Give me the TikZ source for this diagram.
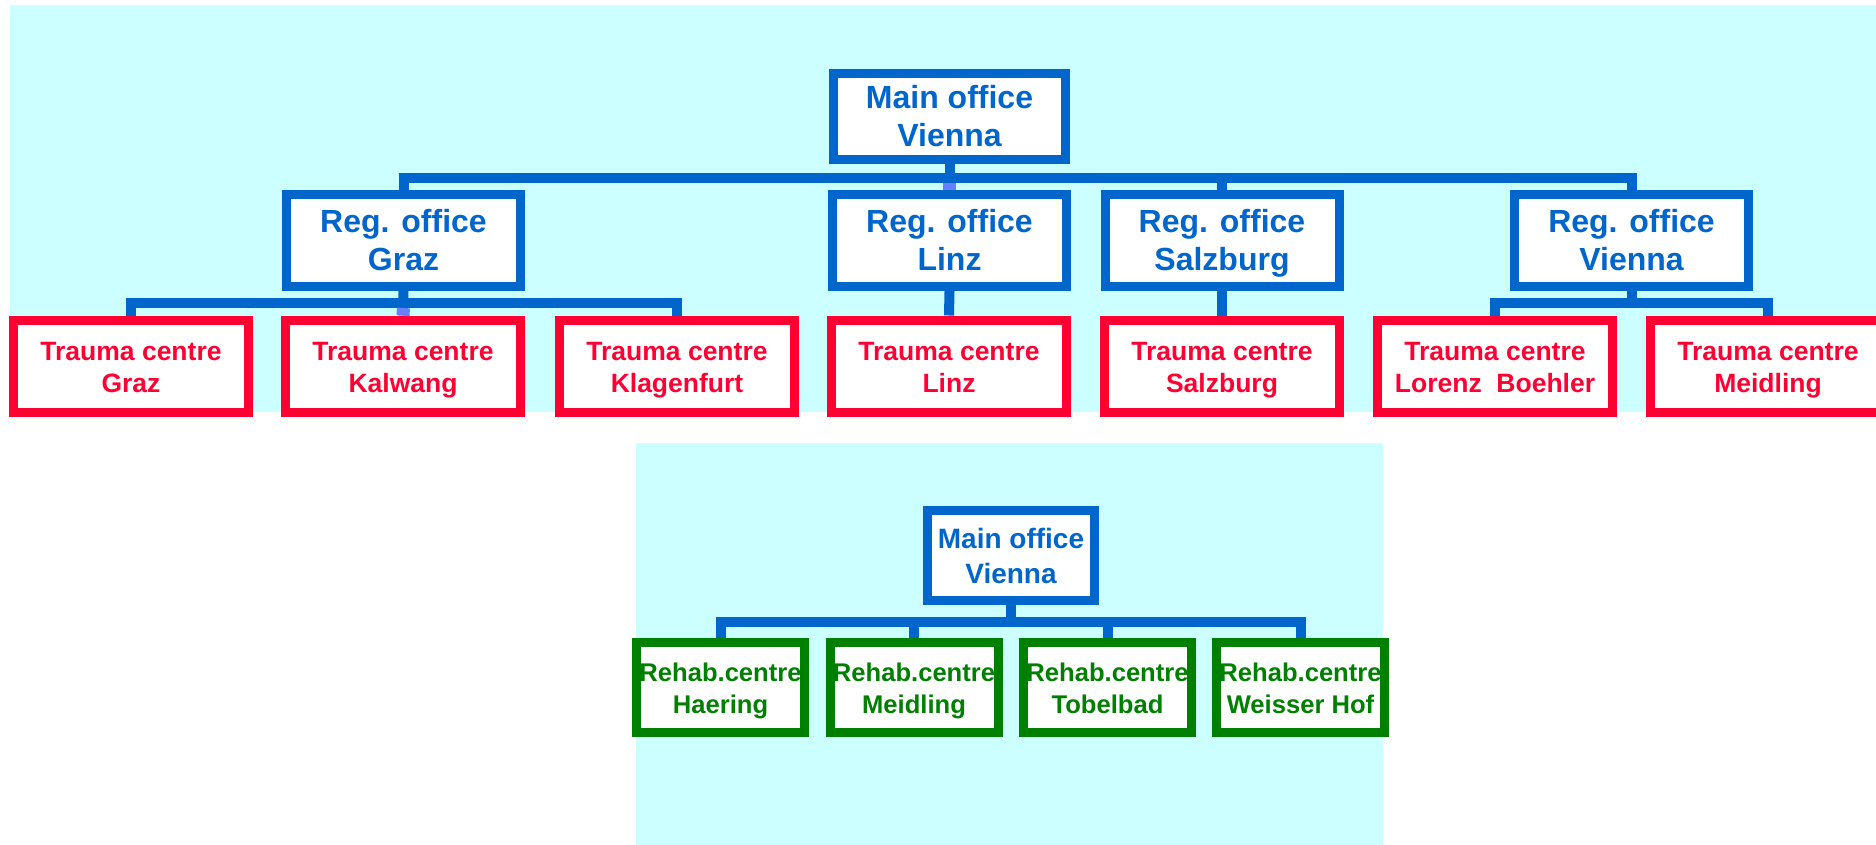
\documentclass[tikz,border=0pt]{standalone}
\usepackage{fontspec}
\setmainfont{Liberation Sans}
\usepackage{tikz}
\usetikzlibrary{positioning,backgrounds}
\usepackage{xcolor}
\definecolor{orgblue}{HTML}{0066CC}
\definecolor{orgpale}{HTML}{6680FF}
\definecolor{traumared}{HTML}{FF0033}
\definecolor{rehabgreen}{HTML}{008000}
\definecolor{panelcyan}{HTML}{CCFFFF}

\begin{document}
\begin{tikzpicture}[x=1pt,y=-1pt,
  box/.style={draw,fill=white,line width=9pt,inner sep=0pt,align=center},
  office/.style={box,draw=orgblue,text=orgblue,minimum width=234pt,minimum height=92pt,
    text height=67pt,text depth=7pt,font=\bfseries\fontsize{32}{38}\selectfont},
  trauma/.style={box,draw=traumared,text=traumared,minimum width=235pt,minimum height=92pt,
    text height=58pt,text depth=6pt,font=\bfseries\fontsize{26.5}{32}\selectfont},
  rehab/.style={box,draw=rehabgreen,text=rehabgreen,minimum width=168pt,minimum height=90pt,
    text height=57pt,text depth=6pt,font=\bfseries\fontsize{25.6}{32}\selectfont},
  link/.style={draw=orgblue,line width=10pt},
  linkpale/.style={draw=orgpale,line width=13pt}]
\useasboundingbox (0,0) rectangle (1876,845);

% trauma centres
\node[office,minimum width=232pt,minimum height=86pt] (main) at (949.5,116.5) {Main office\\Vienna};
\node[office] (rgraz) at (403.5,240.5) {Reg. office\\Graz};
\node[office] (rlinz) at (949.5,240.5) {Reg. office\\Linz};
\node[office] (rsalz) at (1222,240.5) {Reg. office\\Salzburg};
\node[office] (rvienna) at (1631.5,240.5) {Reg. office\\Vienna};
\node[trauma] (tgraz) at (131,366) {Trauma centre\\Graz};
\node[trauma] (tkalwang) at (403,366) {Trauma centre\\Kalwang};
\node[trauma] (tklagenfurt) at (677,366) {Trauma centre\\Klagenfurt};
\node[trauma] (tlinz) at (949,366) {Trauma centre\\Linz};
\node[trauma] (tsalz) at (1222,366) {Trauma centre\\Salzburg};
\node[trauma] (tboehler) at (1495,366) {Trauma centre\\Lorenz~~Boehler};
\node[trauma] (tmeidling) at (1768,366) {Trauma centre\\Meidling};

% rehab centres
\node[office,minimum width=167pt,minimum height=90pt,text height=62pt,text depth=7pt,
  font=\bfseries\fontsize{28}{35}\selectfont] (hq) at (1011,555.5) {Main office\\Vienna};
\node[rehab] (rhaering) at (720.5,687.5) {Rehab.centre\\Haering};
\node[rehab] (rmeidling) at (914,687.5) {Rehab.centre\\Meidling};
\node[rehab] (rtobelbad) at (1107.5,687.5) {Rehab.centre\\Tobelbad};
\node[rehab] (rweisser) at (1300.5,687.5) {Rehab.centre\\Weisser Hof};

\coordinate (topbar) at (949.5,178);
\coordinate (grazbar) at (403.5,303);
\coordinate (viennabar) at (1631.5,303);
\coordinate (rehabbar) at (1011,622);

\begin{scope}[on background layer]
\fill[panelcyan] (10,5) rectangle (1876,412);
\fill[panelcyan] (636,443) rectangle (1383,845);
\draw[link] (rgraz.north) -- (rgraz.north |- topbar) -- (rvienna.north |- topbar) -- (rvienna.north);
\draw[link] (main.south) -- (rlinz.north);
\draw[link] (rsalz.north) -- (rsalz.north |- topbar);
\draw[linkpale] ([yshift=-5pt]topbar) -- (rlinz.north);
\draw[link] (tgraz.north) -- (tgraz.north |- grazbar) -- (tklagenfurt.north |- grazbar) -- (tklagenfurt.north);
\draw[link] (rgraz.south) -- (tkalwang.north);
\draw[linkpale] ([yshift=-5pt]grazbar) -- (tkalwang.north);
\draw[link] (rlinz.south) -- (tlinz.north);
\draw[link] (rsalz.south) -- (tsalz.north);
\draw[link] (tboehler.north) -- (tboehler.north |- viennabar) -- (tmeidling.north |- viennabar) -- (tmeidling.north);
\draw[link] (rvienna.south) -- (viennabar);
\draw[link] (rhaering.north) -- (rhaering.north |- rehabbar) -- (rweisser.north |- rehabbar) -- (rweisser.north);
\draw[link] (hq.south) -- (rehabbar);
\draw[link] (rmeidling.north) -- (rmeidling.north |- rehabbar);
\draw[link] (rtobelbad.north) -- (rtobelbad.north |- rehabbar);
\end{scope}
\end{tikzpicture}
\end{document}
